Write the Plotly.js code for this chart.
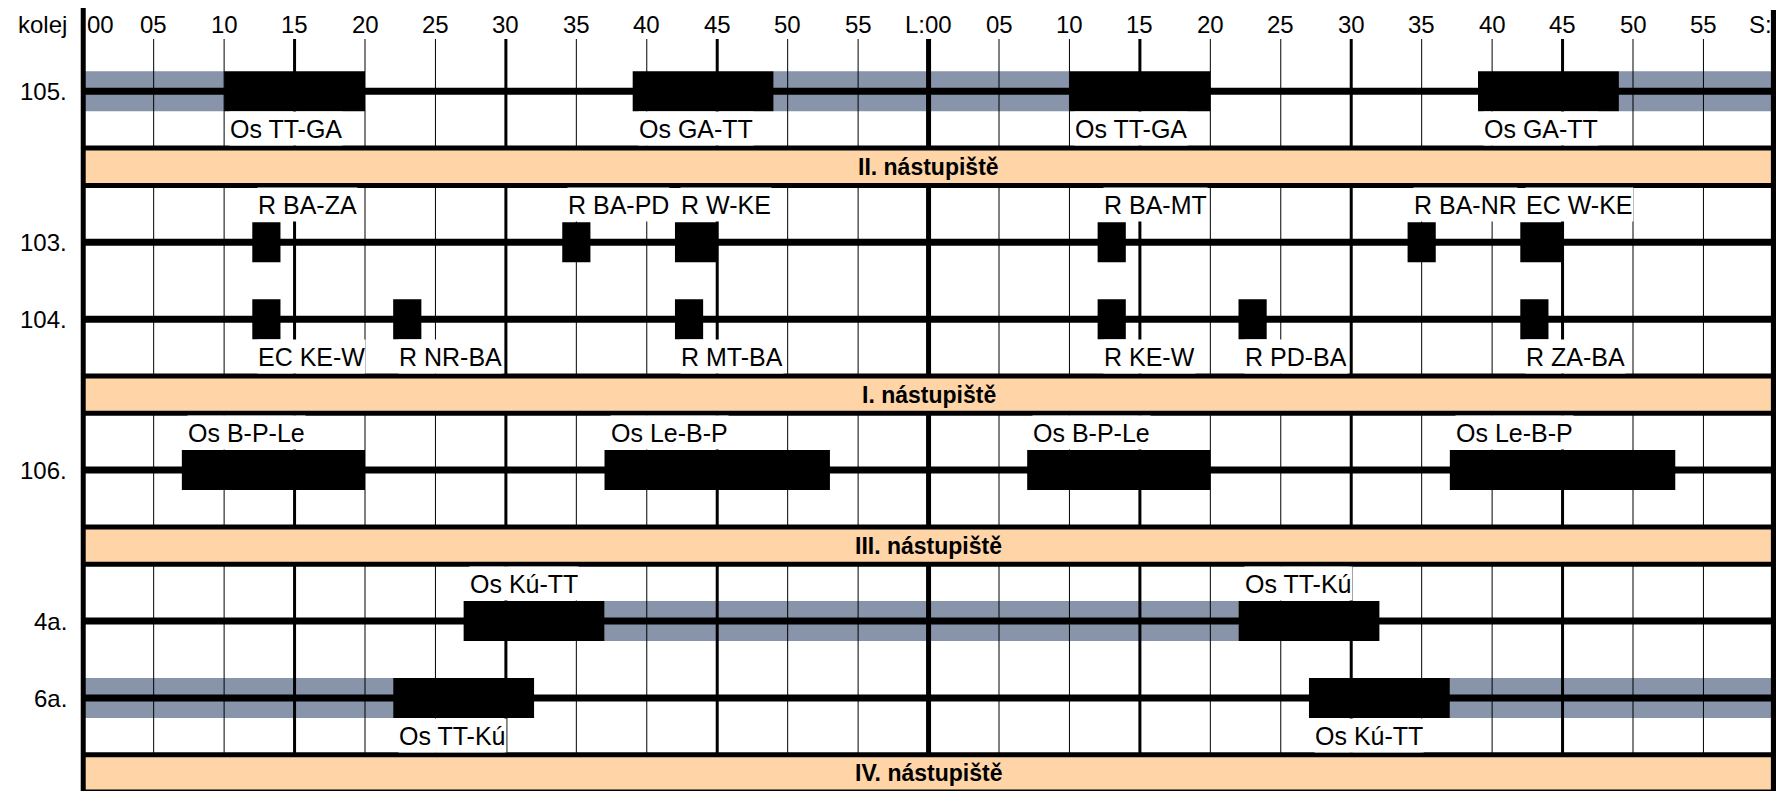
<!DOCTYPE html>
<html>
<head>
<meta charset="utf-8">
<script src="https://cdn.plot.ly/plotly-3.0.1.min.js"></script>
<style>
  body { margin: 0; background: #fff; }
  #graf { width: 1776px; height: 791px; }
</style>
</head>
<body>
<div id="graf"></div>
<script>
// koleje a nastupiste (zhora dole)
var trackGroups = [['105.'], ['103.', '104.'], ['106.'], ['4a.', '6a.']];
var platforms = ['II. nástupiště', 'I. nástupiště', 'III. nástupiště', 'IV. nástupiště'];

// casova os v minutach (dve hodiny)
var tickMinutes = [0, 5, 10, 15, 20, 25, 30, 35, 40, 45, 50, 55, 60, 65, 70, 75, 80, 85, 90, 95, 100, 105, 110, 115, 120];
var tickLabels = ['00', '05', '10', '15', '20', '25', '30', '35', '40', '45', '50', '55', 'L:00',
                  '05', '10', '15', '20', '25', '30', '35', '40', '45', '50', '55', 'S:00'];

// vlaky: kolej, prichod, odchod, nazov
var trainTrack = ['105.', '105.', '105.', '105.',
                  '103.', '103.', '103.', '103.', '103.', '103.',
                  '104.', '104.', '104.', '104.', '104.', '104.',
                  '106.', '106.', '106.', '106.',
                  '4a.', '4a.', '6a.', '6a.'];
var trainStart = [10, 39, 70, 99,
                  12, 34, 42, 72, 94, 102,
                  12, 22, 42, 72, 82, 102,
                  7, 37, 67, 97,
                  27, 82, 22, 87];
var trainEnd   = [20, 49, 80, 109,
                  14, 36, 45, 74, 96, 105,
                  14, 24, 44, 74, 84, 104,
                  20, 53, 80, 113,
                  37, 92, 32, 97];
var trainName  = ['Os TT-GA', 'Os GA-TT', 'Os TT-GA', 'Os GA-TT',
                  'R BA-ZA', 'R BA-PD', 'R W-KE', 'R BA-MT', 'R BA-NR', 'EC W-KE',
                  'EC KE-W', 'R NR-BA', 'R MT-BA', 'R KE-W', 'R PD-BA', 'R ZA-BA',
                  'Os B-P-Le', 'Os Le-B-P', 'Os B-P-Le', 'Os Le-B-P',
                  'Os Kú-TT', 'Os TT-Kú', 'Os TT-Kú', 'Os Kú-TT'];

// odstavene supravy (sede pasy)
var standTrack = ['105.', '105.', '105.', '4a.', '6a.', '6a.'];
var standStart = [0, 49, 109, 37, 0, 97];
var standEnd   = [10, 70, 120, 82, 22, 120];

// --- rozlozenie ---
var FONT = 'Liberation Sans, Arial, Helvetica, sans-serif';
var FIRST = 91.3, HALF = 56.8, PAIR = 77, BAND = 37.3, BOX = 20, GRID_TOP = 39;
var labelBelow = {'105.': true, '103.': false, '104.': true, '106.': false, '4a.': false, '6a.': true};

var trackY = {}, bandTop = [], bandBot = [];
var cur = FIRST;
trackGroups.forEach(function (g) {
    g.forEach(function (t, i) {
        if (i > 0) cur += PAIR;
        trackY[t] = cur;
    });
    var top = cur + HALF;
    bandTop.push(top);
    bandBot.push(top + BAND);
    cur = top + BAND + HALF;
});

function boxes(tracks, starts, ends) {
    var x = [], y = [];
    for (var i = 0; i < tracks.length; i++) {
        var ty = trackY[tracks[i]];
        x.push(starts[i], ends[i], ends[i], starts[i], starts[i], null);
        y.push(ty - BOX, ty - BOX, ty + BOX, ty + BOX, ty - BOX, null);
    }
    return {x: x, y: y};
}

function gridTrace(filter, width) {
    var x = [], y = [];
    tickMinutes.forEach(function (m) {
        if (m === 0 || m === 120 || !filter(m)) return;
        x.push(m, m, null);
        y.push(GRID_TOP, 791, null);
    });
    return {type: 'scatter', mode: 'lines', x: x, y: y, hoverinfo: 'skip',
            line: {color: '#000', width: width}};
}

var stand = boxes(standTrack, standStart, standEnd);
var trains = boxes(trainTrack, trainStart, trainEnd);

var railX = [], railY = [];
Object.keys(trackY).forEach(function (t) {
    railX.push(0, 120, null);
    railY.push(trackY[t], trackY[t], null);
});

var data = [
    {type: 'scatter', mode: 'lines', x: stand.x, y: stand.y, fill: 'toself',
     fillcolor: '#8794a9', line: {width: 0}, hoverinfo: 'skip'},
    gridTrace(function (m) { return m % 15 !== 0; }, 1),
    gridTrace(function (m) { return m % 15 === 0 && m % 60 !== 0; }, 3),
    gridTrace(function (m) { return m % 60 === 0; }, 5),
    {type: 'scatter', mode: 'lines', x: railX, y: railY,
     line: {color: '#000', width: 7}, hoverinfo: 'skip'},
    {type: 'scatter', mode: 'lines', x: trains.x, y: trains.y, fill: 'toself',
     fillcolor: '#000', line: {width: 0}, hoverinfo: 'skip'}
];

var shapes = [];
platforms.forEach(function (p, i) {
    shapes.push({type: 'rect', layer: 'above', xref: 'x', yref: 'y',
        x0: 0, x1: 120, y0: bandTop[i], y1: bandBot[i],
        fillcolor: '#ffd5a8', line: {width: 0}});
    [bandTop[i], bandBot[i]].forEach(function (yy) {
        shapes.push({type: 'line', layer: 'above', xref: 'x', yref: 'y',
            x0: 0, x1: 120, y0: yy, y1: yy, line: {color: '#000', width: 5}});
    });
});
// ramik vlavo a vpravo
shapes.push({type: 'line', layer: 'above', xref: 'x', yref: 'y', x0: 0, x1: 0, y0: 8, y1: 791,
             line: {color: '#000', width: 5}});
shapes.push({type: 'line', layer: 'above', xref: 'x', yref: 'y', x0: 120, x1: 120, y0: 10, y1: 791,
             line: {color: '#000', width: 6}});

var annotations = [];
tickMinutes.forEach(function (m, i) {
    annotations.push({x: m, y: 24, xref: 'x', yref: 'y', text: tickLabels[i], showarrow: false,
        xanchor: i === 0 ? 'left' : 'center', xshift: i === 0 ? 2 : 0, yanchor: 'middle',
        font: {family: FONT, size: 24, color: '#000'}});
});
annotations.push({x: 0, y: 24, xref: 'paper', yref: 'y', text: 'kolej', showarrow: false,
    xanchor: 'right', xshift: -10, yanchor: 'middle', font: {family: FONT, size: 24, color: '#000'}});
Object.keys(trackY).forEach(function (t) {
    annotations.push({x: 0, y: trackY[t], xref: 'paper', yref: 'y', text: t, showarrow: false,
        xanchor: 'right', xshift: -10, yanchor: 'middle', font: {family: FONT, size: 24, color: '#000'}});
});
platforms.forEach(function (p, i) {
    annotations.push({x: 60, y: (bandTop[i] + bandBot[i]) / 2, xref: 'x', yref: 'y', text: '<b>' + p + '</b>',
        showarrow: false, xanchor: 'center', yanchor: 'middle', font: {family: FONT, size: 23, color: '#000'}});
});
trainName.forEach(function (n, i) {
    var t = trainTrack[i], below = labelBelow[t];
    annotations.push({x: trainStart[i], y: below ? trackY[t] + BOX : trackY[t] - BOX,
        xref: 'x', yref: 'y', text: n, showarrow: false,
        xanchor: 'left', xshift: 5, yanchor: below ? 'top' : 'bottom',
        height: 33, borderpad: 0, bgcolor: '#fff', valign: 'middle',
        font: {family: FONT, size: 25, color: '#000'}});
});

var layout = {
    width: 1776,
    height: 791,
    margin: {l: 79, r: 0, t: 0, b: 0},
    paper_bgcolor: '#fff',
    plot_bgcolor: '#fff',
    showlegend: false,
    hovermode: false,
    xaxis: {range: [-0.3, 120.15], visible: false, fixedrange: true},
    yaxis: {range: [791, 0], visible: false, fixedrange: true},
    shapes: shapes,
    annotations: annotations
};

Plotly.newPlot('graf', data, layout, {displayModeBar: false, staticPlot: true});
</script>
</body>
</html>
